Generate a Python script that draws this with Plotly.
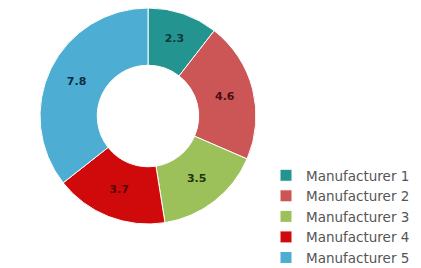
import plotly.graph_objects as go

labels = ["Manufacturer 1", "Manufacturer 2", "Manufacturer 3", "Manufacturer 4", "Manufacturer 5"]
values = [2.3, 4.6, 3.5, 3.7, 7.8]
colors = ["#23948F", "#CC5555", "#9DC15A", "#D00A0A", "#4EADD2"]
text_colors = ["#0E3A3C", "#4A1010", "#22330A", "#5A0505", "#0F2A40"]

W, H = 421, 268
cx, top, d = 140, 0, 216

fig = go.Figure(go.Pie(
    labels=labels,
    values=values,
    hole=0.47,
    sort=False,
    direction="clockwise",
    rotation=0,
    textinfo="value",
    textposition="inside",
    insidetextorientation="horizontal",
    textfont=dict(family="DejaVu Sans", size=11, color=text_colors, weight="bold"),
    marker=dict(colors=colors, line=dict(color="white", width=1)),
    domain=dict(x=[(cx - d / 2) / W, (cx + d / 2) / W], y=[(H - top - d) / H, (H - top) / H]),
))

fig.update_layout(
    width=W, height=H,
    margin=dict(l=0, r=0, t=0, b=0),
    paper_bgcolor="white",
    plot_bgcolor="white",
    showlegend=True,
    legend=dict(
        x=258 / W, y=(H - 152) / H, xanchor="left", yanchor="top",
        font=dict(family="DejaVu Sans", size=13.5, color="#555555"),
        bgcolor="rgba(0,0,0,0)",
        itemwidth=30,
    ),
)

fig.write_html("out.html")
